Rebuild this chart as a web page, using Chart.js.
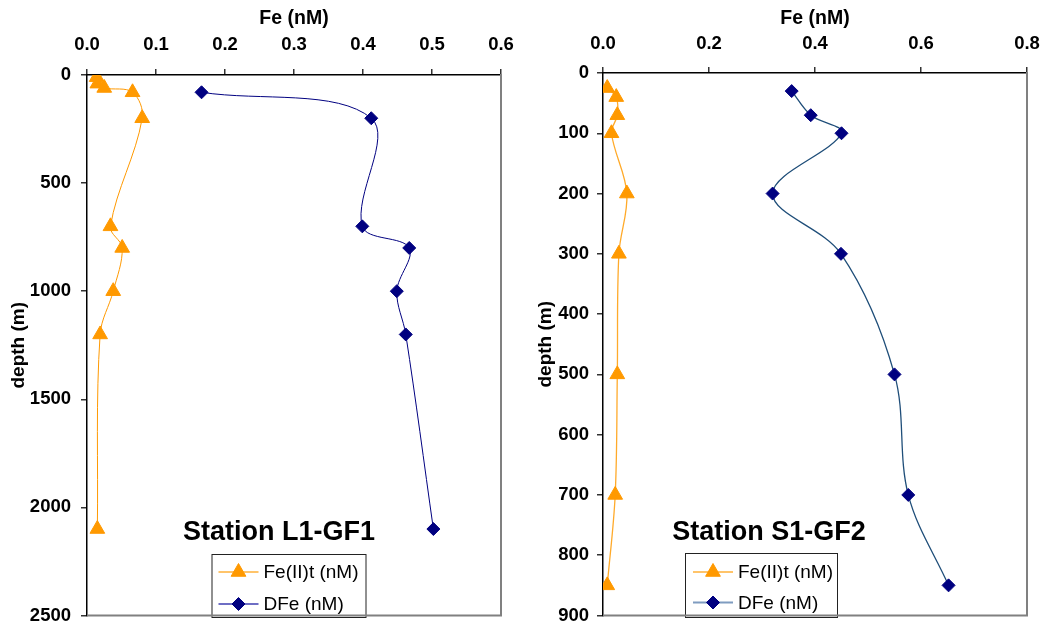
<!DOCTYPE html>
<html><head><meta charset="utf-8">
<script src="https://cdn.jsdelivr.net/npm/chart.js@4.4.0/dist/chart.umd.min.js"></script>
<style>
html,body{margin:0;padding:0;background:#fff;}
#wrap{position:relative;width:1048px;height:625px;background:#fff;}
.c{position:absolute;top:0;width:524px;height:625px;}
</style></head><body>
<div id="wrap">
<div class="c" style="left:0"><canvas id="c1" width="524" height="625"></canvas></div>
<div class="c" style="left:524px"><canvas id="c2" width="524" height="625"></canvas></div>
</div>
<script>
// ---- Station L1-GF1 ----
const l1FeIIDepth = [10, 40, 60, 80, 200, 700, 800, 1000, 1200, 2100];
const l1FeIIValue = [0.014, 0.015, 0.025, 0.066, 0.080, 0.034, 0.051, 0.038, 0.019, 0.015];
const l1DFeDepth  = [80, 200, 700, 800, 1000, 1200, 2100];
const l1DFeValue  = [0.166, 0.412, 0.399, 0.467, 0.449, 0.462, 0.502];
const l1FeTicks    = [0, 0.1, 0.2, 0.3, 0.4, 0.5, 0.6];
const l1DepthTicks = [0, 500, 1000, 1500, 2000, 2500];

// ---- Station S1-GF2 ----
const s1FeIIDepth = [25, 40, 70, 100, 200, 300, 500, 700, 850];
const s1FeIIValue = [0.008, 0.025, 0.027, 0.016, 0.045, 0.030, 0.027, 0.023, 0.008];
const s1DFeDepth  = [30, 70, 100, 200, 300, 500, 700, 850];
const s1DFeValue  = [0.356, 0.392, 0.450, 0.320, 0.449, 0.550, 0.576, 0.652];
const s1FeTicks    = [0, 0.2, 0.4, 0.6, 0.8];
const s1DepthTicks = [0, 100, 200, 300, 400, 500, 600, 700, 800, 900];

const seriesNames = ['Fe(II)t (nM)', 'DFe (nM)'];
const xTitle = 'Fe (nM)';
const yTitle = 'depth (m)';

const FONT = '"Liberation Sans", Arial, sans-serif';

function pts(xs, ys){ return xs.map((d,i)=>({x: ys[i], y: d})); }

const decor = {
  id: 'decor',
  afterDraw(chart, args, o){
    const ctx = chart.ctx, a = chart.chartArea;
    ctx.save();
    // station label
    ctx.fillStyle = '#000';
    ctx.font = 'bold 27px ' + FONT;
    ctx.textAlign = 'center';
    ctx.textBaseline = 'middle';
    ctx.fillText(o.station, o.sx, o.sy);
    // legend
    const L = o.legend;
    ctx.fillStyle = '#fff';
    ctx.fillRect(L.x, L.y, L.w, L.h);
    ctx.strokeStyle = '#222';
    ctx.lineWidth = 1;
    ctx.strokeRect(L.x + 0.5, L.y + 0.5, L.w, L.h);
    const ds = chart.data.datasets;
    ds.forEach((d, i) => {
      const ry = L.rows[i];
      ctx.strokeStyle = L.lineColors[i];
      ctx.lineWidth = 2;
      ctx.beginPath();
      ctx.moveTo(L.x + L.l0, ry); ctx.lineTo(L.x + L.l1, ry);
      ctx.stroke();
      ctx.fillStyle = d.pointBackgroundColor;
      ctx.strokeStyle = d.pointBorderColor;
      ctx.lineWidth = 1;
      Chart.helpers.drawPoint(ctx, {pointStyle: d.pointStyle, radius: d.pointRadius, rotation: 0, borderWidth: 1}, L.x + (L.l0 + L.l1)/2, ry);
      ctx.fillStyle = '#000';
      ctx.font = '19px ' + FONT;
      ctx.textAlign = 'left';
      ctx.textBaseline = 'middle';
      ctx.fillText(seriesNames[i], L.x + L.tx, ry + 1);
    });
    // grey right & bottom frame
    ctx.strokeStyle = '#808080';
    ctx.lineWidth = 2;
    ctx.beginPath();
    ctx.moveTo(a.right, a.top - 1);
    ctx.lineTo(a.right, a.bottom);
    ctx.lineTo(a.left, a.bottom);
    ctx.stroke();
    ctx.restore();
  }
};

function makeChart(id, cfg){
  const ticksFont = {family: FONT, size: 18.5, weight: 'bold'};
  const titleFont = {family: FONT, size: 19.5, weight: 'bold'};
  return new Chart(document.getElementById(id), {
    type: 'scatter',
    data: {
      datasets: [
        {
          label: seriesNames[0],
          data: pts(cfg.feIIDepth, cfg.feIIValue),
          showLine: true,
          tension: 0.35,
          borderColor: cfg.orangeLine,
          borderWidth: cfg.lineWidth,
          pointStyle: 'triangle',
          pointRadius: 8.5,
          pointBackgroundColor: '#FF9900',
          pointBorderColor: '#FF9900',
          pointBorderWidth: 1
        },
        {
          label: seriesNames[1],
          data: pts(cfg.dfeDepth, cfg.dfeValue),
          showLine: true,
          tension: 0.35,
          borderColor: cfg.blueLine,
          borderWidth: cfg.lineWidth,
          pointStyle: 'rectRot',
          pointRadius: 6.5,
          pointBackgroundColor: '#000080',
          pointBorderColor: '#000080',
          pointBorderWidth: 1
        }
      ]
    },
    options: {
      responsive: false,
      animation: false,
      devicePixelRatio: 1,
      layout: {padding: {left: 0, top: 0, right: cfg.padRight, bottom: cfg.padBottom}},
      plugins: {
        legend: {display: false},
        tooltip: {enabled: false},
        decor: cfg.decor
      },
      scales: {
        x: {
          type: 'linear',
          position: 'top',
          min: cfg.feTicks[0],
          max: cfg.feTicks[cfg.feTicks.length - 1],
          afterBuildTicks: s => { s.ticks = cfg.feTicks.map(v => ({value: v})); },
          afterFit: s => { s.height = cfg.xAxisH; s.paddingLeft = 0; s.paddingRight = 0; },
          ticks: {
            font: ticksFont, color: '#000', padding: cfg.xTickPad,
            maxRotation: 0, autoSkip: false,
            callback: v => Number(v).toFixed(1)
          },
          grid: {drawOnChartArea: false, drawTicks: true, tickLength: 6, color: '#333', lineWidth: 1.5},
          border: {display: true, color: '#000', width: 1.5},
          title: {display: true, text: xTitle, font: titleFont, color: '#000', padding: {top: cfg.xTitlePad, bottom: 0}}
        },
        y: {
          type: 'linear',
          position: 'left',
          reverse: true,
          min: cfg.depthTicks[0],
          max: cfg.depthTicks[cfg.depthTicks.length - 1],
          afterBuildTicks: s => { s.ticks = cfg.depthTicks.map(v => ({value: v})); },
          afterFit: s => { s.width = cfg.yAxisW; s.paddingTop = 0; s.paddingBottom = 0; },
          ticks: {
            font: ticksFont, color: '#000', padding: cfg.yTickPad, autoSkip: false,
            callback: v => String(v)
          },
          grid: {drawOnChartArea: false, drawTicks: true, tickLength: 6, color: '#333', lineWidth: 1.5},
          border: {display: true, color: '#000', width: 1.5},
          title: {display: true, text: yTitle, font: {family: FONT, size: 19, weight: 'bold'}, color: '#000', padding: {top: cfg.yTitlePad, bottom: 0}}
        }
      }
    },
    plugins: [decor]
  });
}

makeChart('c1', {
  feIIDepth: l1FeIIDepth, feIIValue: l1FeIIValue,
  dfeDepth: l1DFeDepth, dfeValue: l1DFeValue,
  feTicks: l1FeTicks, depthTicks: l1DepthTicks,
  orangeLine: '#FF9900', blueLine: '#000080', lineWidth: 1,
  padRight: 23, padBottom: 8, xAxisH: 75, yAxisW: 87,
  xTickPad: 13, yTickPad: 10, xTitlePad: 7, yTitlePad: 7,
  decor: {
    station: 'Station L1-GF1', sx: 279, sy: 533,
    legend: {x: 211.5, y: 554, w: 154, h: 63, rows: [572, 604], l0: 7, l1: 47, tx: 52,
             lineColors: ['#FFC46A', '#6E6EC4']}
  }
});

makeChart('c2', {
  feIIDepth: s1FeIIDepth, feIIValue: s1FeIIValue,
  dfeDepth: s1DFeDepth, dfeValue: s1DFeValue,
  feTicks: s1FeTicks, depthTicks: s1DepthTicks,
  orangeLine: '#FFAA2A', blueLine: '#1F4E79', lineWidth: 1.3,
  padRight: 21, padBottom: 8, xAxisH: 73, yAxisW: 79,
  xTickPad: 12, yTickPad: 8, xTitlePad: 7, yTitlePad: 10,
  decor: {
    station: 'Station S1-GF2', sx: 245, sy: 533,
    legend: {x: 161, y: 553, w: 152, h: 64, rows: [572, 602.5], l0: 8, l1: 48, tx: 53,
             lineColors: ['#FFC46A', '#7F9CC0']}
  }
});
</script>
</body></html>
